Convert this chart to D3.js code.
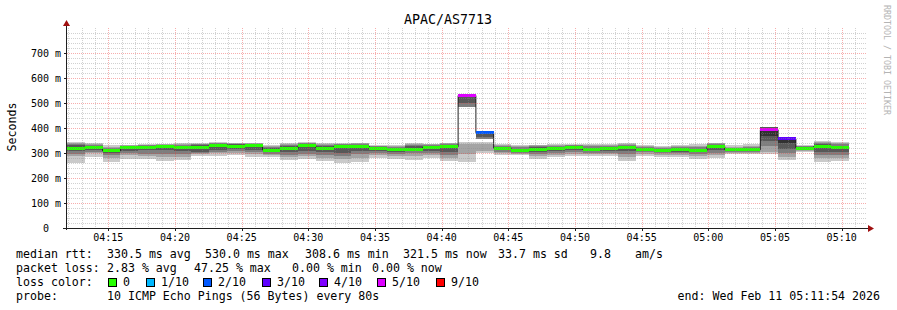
<!DOCTYPE html>
<html><head><meta charset="utf-8">
<script src="https://cdn.jsdelivr.net/npm/d3@7"></script>
<style>
body{margin:0;background:#fff}
svg{display:block}
text{font-family:"DejaVu Sans Mono",monospace;fill:#000}
</style>
</head><body>
<svg id="chart" width="897" height="310"></svg>
<script>
// ---------- data ----------
const chartTitle = "APAC/AS7713";
const startTime = "2026-02-11T04:11:54Z";
const endTime = "2026-02-11T05:11:54Z";
const stepSeconds = 80;
const median = [319,323,308.6,322,323,325,323,324,331,328, 329,312,319,329,319,325,327,317,315,316, 322,325,530,381,319,309,315,318,322,314, 318,322,314,310,313,310,326,313,313,393, 357,319,326,321.5];
const loss = [0,0,0,0,0,0,0,0,0,0, 0,0,0,0,0,0,0,0,0,0, 0,0,5,2,0,0,0,0,0,0, 0,0,0,0,0,0,0,0,0,5, 3,0,0,0];
// smoke bands (outermost = band1 .. innermost = band5), ms
const band1Low = [260,286,264,278,278,268,272,290,290,294,286,284,272,278,268,262,264,280,278,272,282,270,264,300,292,292,278,284,290,290,288,270,290,286,284,278,280,296,296,298,273,306,264,268];
const band1High = [346,339,333,334,336,337,339,341,343,342,342,334,340,344,340,340,341,333,334,342,338,342,343,345,337,333,333,338,337,338,337,340,334,330,334,336,342,331,336,403,366,334,350,344];
const band2Low = [290,300,282,292,290,284,286,296,300,302,298,292,284,288,282,278,282,292,290,288,292,282,296,310,300,298,290,292,298,296,296,284,298,294,292,290,292,302,302,303,285,310,280,282];
const band2High = [342,336,326,332,333,335,336,338,341,340,340,330,336,341,336,337,339,330,330,338,336,340,335,336,334,328,331,334,334,332,334,337,330,326,330,330,339,326,330,403,364,330,345,340];
const band3Low = [298,306,292,300,298,296,298,300,306,310,306,298,294,298,294,290,296,300,298,300,300,292,486,357,306,302,298,300,304,302,302,296,304,300,300,298,302,306,306,330,300,312,292,294];
const band3High = [338,333,320,330,331,333,333,335,339,338,338,326,332,339,332,335,337,327,326,334,333,337,528,381,330,324,328,330,331,327,330,334,326,322,326,324,336,322,326,403,363,327,340,335];
const band4Low = [308,314,300,310,312,312,308,306,314,318,314,304,304,310,306,302,310,308,306,308,310,304,500,364,312,305,306,308,312,308,310,308,308,305,306,304,312,310,310,350,316,315,306,306];
const band4High = [334,330,316,328,329,331,330,332,337,335,336,320,328,336,328,332,334,324,322,328,330,334,528,381,326,318,324,326,328,322,326,330,322,318,322,318,333,318,322,403,362,324,335,330];
const band5Low = [316,320,306,319,320,322,320,320,328,325,325,309,316,326,316,322,324,314,312,313,319,322,null,null,316,307,312,316,320,312,316,320,312,308,311,308,324,312,312,370,340,318,324,319];
const band5High = [322,326,311,325,326,328,326,328,334,331,332,315,322,332,322,328,330,320,318,319,325,328,null,null,322,312,318,321,325,317,321,325,317,313,316,313,329,315,316,400,360,321,329,324];
const yTicks = [0,100,200,300,400,500,600,700];
const yUnit = "m";
const lossLabels = ["0","1/10","2/10","3/10","4/10","5/10","9/10"];
const lossThresholds = [0,1,2,3,4,5,9];
const lossColors = ["#26ff00","#00b8ff","#0059ff","#5e00ff","#7e00ff","#dd00ff","#ff0000"];
const smokeColors = ["#cacaca","#a4a4a4","#7e7e7e","#585858","#323232"];
const statsRtt = ["median rtt:","330.5 ms avg","530.0 ms max","308.6 ms min","321.5 ms now","33.7 ms sd","9.8","am/s"];
const statsLoss = ["packet loss:","2.83 % avg","47.25 % max","0.00 % min","0.00 % now"];
const probeText = ["probe:","10 ICMP Echo Pings (56 Bytes) every 80s"];
const endText = "end: Wed Feb 11 05:11:54 2026";

// ---------- layout ----------
const svg = d3.select("#chart");
svg.append("rect").attr("width",897).attr("height",310).attr("fill","#fff");
const L = 67, R = 867, T = 28, B = 228;
const t0 = new Date(startTime), t1 = new Date(endTime);
const x = d3.scaleUtc().domain([t0,t1]).range([L,R]);
const y = d3.scaleLinear().domain([0,800]).range([B,T]);
const stepTimes = median.map((_,i)=> new Date(+t0 + i*stepSeconds*1000));
const stepEnd = i => new Date(+t0 + (i+1)*stepSeconds*1000);

const plot = svg.append("g");
// smoke
const bands = [[band1Low,band1High],[band2Low,band2High],[band3Low,band3High],[band4Low,band4High],[band5Low,band5High]];
bands.forEach(([lo,hi],b)=>{
  plot.append("g").selectAll("rect").data(median.map((_,i)=>i).filter(i=>lo[i]!=null && hi[i]!=null))
    .join("rect")
    .attr("x", i=>x(stepTimes[i]))
    .attr("width", i=>x(stepEnd(i))-x(stepTimes[i]))
    .attr("y", i=>y(hi[i]))
    .attr("height", i=>y(lo[i])-y(hi[i]))
    .attr("fill", smokeColors[b])
    .attr("shape-rendering","crispEdges");
});
// median step line
const linePts = median.map((m,i)=>[stepTimes[i],m]).concat([[stepEnd(median.length-1), median[median.length-1]]]);
plot.append("path")
  .attr("d", d3.line().x(d=>x(d[0])).y(d=>y(d[1])).curve(d3.curveStepAfter)(linePts))
  .attr("fill","none").attr("stroke","#202020").attr("stroke-width",1);
// median loss-coloured band
function lossIndex(l){ let k=0; lossThresholds.forEach((t,j)=>{ if(l>=t) k=j; }); return k; }
plot.append("g").selectAll("rect").data(median.map((_,i)=>i)).join("rect")
  .attr("x", i=>x(stepTimes[i]))
  .attr("width", i=>x(stepEnd(i))-x(stepTimes[i]))
  .attr("y", i=>y(median[i])-1.5)
  .attr("height", 3)
  .attr("fill", i=>lossColors[lossIndex(loss[i])])
  .attr("shape-rendering","crispEdges");

// grid (on top, translucent)
const grid = svg.append("g").attr("shape-rendering","crispEdges");
const minorY = d3.range(20,800,20).filter(v=>v%100!==0);
grid.selectAll(".hmin").data(minorY).join("line")
  .attr("x1",L).attr("x2",R).attr("y1",d=>Math.round(y(d))+0.5).attr("y2",d=>Math.round(y(d))+0.5)
  .attr("stroke","rgba(140,140,140,0.4)").attr("stroke-dasharray","1,1");
const minorX = d3.utcMinute.range(t0,t1).filter(d=>d.getUTCMinutes()%5!==0);
grid.selectAll(".vmin").data(minorX).join("line")
  .attr("y1",T).attr("y2",B).attr("x1",d=>Math.round(x(d))+0.5).attr("x2",d=>Math.round(x(d))+0.5)
  .attr("stroke","rgba(140,140,140,0.4)").attr("stroke-dasharray","1,1");
grid.selectAll(".hmaj").data(yTicks.filter(v=>v>0)).join("line")
  .attr("x1",L).attr("x2",R).attr("y1",d=>Math.round(y(d))+0.5).attr("y2",d=>Math.round(y(d))+0.5)
  .attr("stroke","rgba(235,60,60,0.42)").attr("stroke-dasharray","1,1");
const majorX = d3.utcMinute.every(5).range(t0,t1);
grid.selectAll(".vmaj").data(majorX).join("line")
  .attr("y1",T).attr("y2",B).attr("x1",d=>Math.round(x(d))+0.5).attr("x2",d=>Math.round(x(d))+0.5)
  .attr("stroke","rgba(235,60,60,0.42)").attr("stroke-dasharray","1,1");

// axes
const ax = svg.append("g").attr("shape-rendering","crispEdges");
ax.append("line").attr("x1",L-0.5).attr("x2",L-0.5).attr("y1",B+2).attr("y2",24).attr("stroke","#202020");
ax.append("line").attr("x1",L-4).attr("x2",870).attr("y1",B+0.5).attr("y2",B+0.5).attr("stroke","#202020");
ax.selectAll(".yt").data(yTicks).join("line")
  .attr("x1",L-3).attr("x2",L).attr("y1",d=>Math.round(y(d))+0.5).attr("y2",d=>Math.round(y(d))+0.5).attr("stroke","#202020");
ax.selectAll(".xt").data(majorX).join("line")
  .attr("y1",B).attr("y2",B+3).attr("x1",d=>Math.round(x(d))+0.5).attr("x2",d=>Math.round(x(d))+0.5).attr("stroke","#202020");
svg.append("path").attr("d",`M${L-0.5},20 L${L-4},26 L${L+3},26 Z`).attr("fill","#a01010");
svg.append("path").attr("d",`M874,${B+0.5} L868,${B-3} L868,${B+4} Z`).attr("fill","#a01010");

// tick labels
svg.append("g").selectAll("text").data(yTicks).join("text")
  .attr("x",49).attr("y",d=>y(d)+3.7).attr("text-anchor","end").attr("font-size",10).text(d=>d);
svg.append("g").selectAll("text").data(yTicks.filter(d=>d>0)).join("text")
  .attr("x",55).attr("y",d=>y(d)+3.7).attr("font-size",10).text(yUnit);
const fmt = d3.utcFormat("%H:%M");
svg.append("g").selectAll("text").data(majorX).join("text")
  .attr("x",d=>x(d)).attr("y",241).attr("text-anchor","middle").attr("font-size",10).text(d=>fmt(d));

// titles
svg.append("text").attr("x",448).attr("y",23.5).attr("text-anchor","middle").attr("font-size",13.3).text(chartTitle);
svg.append("text").attr("transform","translate(15.5,127) rotate(-90)").attr("text-anchor","middle").attr("font-size",11.6).text("Seconds");
svg.append("text").attr("transform","translate(884,5) rotate(90)").attr("font-size",8.3).style("fill","#b4b4b4").text("RRDTOOL / TOBI OETIKER");

// legend
const lg = svg.append("g").attr("font-size",11.6);
const rttX = [16,107,205,305,403,498,590,635];
statsRtt.forEach((s,i)=> lg.append("text").attr("x",rttX[i]).attr("y",258).text(s));
const lossX = [16,107,194,292,372];
statsLoss.forEach((s,i)=> lg.append("text").attr("x",lossX[i]).attr("y",272).text(s));
lg.append("text").attr("x",16).attr("y",286).text("loss color:");
const boxX = [108,146,203,262,319,377,436];
lossLabels.forEach((s,i)=>{
  lg.append("rect").attr("x",boxX[i]+0.5).attr("y",278.5).attr("width",8).attr("height",8)
    .attr("fill",lossColors[i]).attr("stroke","#000").attr("shape-rendering","crispEdges");
  lg.append("text").attr("x",boxX[i]+15).attr("y",286).text(s);
});
lg.append("text").attr("x",16).attr("y",300).text(probeText[0]);
lg.append("text").attr("x",107).attr("y",300).text(probeText[1]);
lg.append("text").attr("x",880).attr("y",300).attr("text-anchor","end").text(endText);
</script>
</body></html>
